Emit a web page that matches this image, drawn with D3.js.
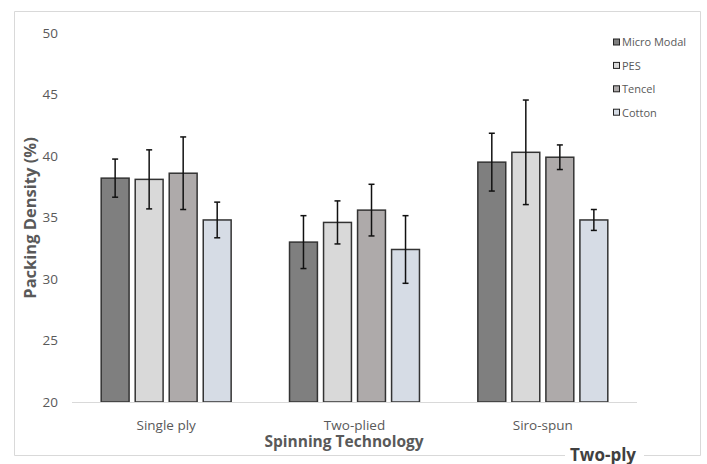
<!DOCTYPE html>
<html>
<head>
<meta charset="utf-8">
<script src="https://cdn.jsdelivr.net/npm/d3@7"></script>
<style>
  body { margin: 0; background: #fff; }
  svg { display: block; font-family: "Open Sans", "Liberation Sans", sans-serif; }
</style>
</head>
<body>
<div id="chart"></div>
<script>
// Chart data
const categories = ["Single ply", "Two-plied", "Siro-spun"];
const fibres = ["Micro Modal", "PES", "Tencel", "Cotton"];
const colors = ["#7f7f7f", "#d9d9d9", "#aeaaaa", "#d6dce5"];

// mean packing density per fibre, one value per category
const microModal = [38.2, 33.0, 39.5];
const pes = [38.1, 34.6, 40.3];
const tencel = [38.6, 35.6, 39.9];
const cotton = [34.8, 32.4, 34.8];

// error bar half-lengths
const microModalErr = [1.55, 2.15, 2.35];
const pesErr = [2.4, 1.75, 4.25];
const tencelErr = [2.95, 2.1, 1.0];
const cottonErr = [1.45, 2.75, 0.85];

const yTicks = [20, 25, 30, 35, 40, 45, 50];

const means = [microModal, pes, tencel, cotton];
const errs = [microModalErr, pesErr, tencelErr, cottonErr];

const rows = [];
categories.forEach((c, i) => {
    fibres.forEach((f, j) => {
        rows.push({ cat: c, fibre: f, value: means[j][i], err: errs[j][i], color: colors[j] });
    });
});

function render() {
    const width = 707, height = 464;
    const margin = { left: 72, right: 70, top: 33, bottom: 62 };

    const svg = d3.select("#chart")
        .append("svg")
        .attr("width", width)
        .attr("height", height);

    // chart area border, with a gap for the "Two-ply" label
    svg.append("path")
        .attr("d", "M565,455.5 H14.5 V11.5 H700.5 V455.5 H644")
        .attr("stroke", "#d9d9d9")
        .attr("stroke-width", 1)
        .attr("fill", "none");

    const x0 = d3.scaleBand()
        .domain(categories)
        .range([margin.left, width - margin.right])
        .paddingInner(0.31)
        .paddingOuter(0.155);

    const x1 = d3.scaleBand()
        .domain(fibres)
        .range([0, x0.bandwidth()])
        .paddingInner(0.18);

    const y = d3.scaleLinear()
        .domain([20, 50])
        .range([height - margin.bottom, margin.top]);

    // y tick labels
    svg.append("g")
        .selectAll("text")
        .data(yTicks)
        .join("text")
        .attr("x", 58)
        .attr("y", d => y(d))
        .attr("dy", "0.35em")
        .attr("text-anchor", "end")
        .attr("font-size", 13.5)
        .attr("fill", "#595959")
        .text(d => d);

    // bars
    const bars = svg.append("g")
        .selectAll("g")
        .data(rows)
        .join("g")
        .attr("transform", d => `translate(${x0(d.cat) + x1(d.fibre)},0)`);

    bars.append("rect")
        .attr("x", 0)
        .attr("y", d => y(d.value))
        .attr("width", x1.bandwidth())
        .attr("height", d => y(20) - y(d.value))
        .attr("fill", d => d.color)
        .attr("stroke", "#333")
        .attr("stroke-width", 1.5);

    // error bars
    const cx = x1.bandwidth() / 2;
    bars.append("line")
        .attr("x1", cx).attr("x2", cx)
        .attr("y1", d => y(d.value + d.err))
        .attr("y2", d => y(d.value - d.err))
        .attr("stroke", "#111")
        .attr("stroke-width", 1.5);
    bars.append("line")
        .attr("x1", cx - 3).attr("x2", cx + 3)
        .attr("y1", d => y(d.value + d.err))
        .attr("y2", d => y(d.value + d.err))
        .attr("stroke", "#111")
        .attr("stroke-width", 1.5);
    bars.append("line")
        .attr("x1", cx - 3).attr("x2", cx + 3)
        .attr("y1", d => y(d.value - d.err))
        .attr("y2", d => y(d.value - d.err))
        .attr("stroke", "#111")
        .attr("stroke-width", 1.5);

    // x axis line
    svg.append("line")
        .attr("x1", margin.left)
        .attr("x2", width - margin.right)
        .attr("y1", y(20) + 0.5)
        .attr("y2", y(20) + 0.5)
        .attr("stroke", "#d9d9d9")
        .attr("stroke-width", 1);

    // category labels
    svg.append("g")
        .selectAll("text")
        .data(categories)
        .join("text")
        .attr("x", d => x0(d) + x0.bandwidth() / 2)
        .attr("y", 430)
        .attr("text-anchor", "middle")
        .attr("font-size", 13.5)
        .attr("fill", "#595959")
        .text(d => d);

    // axis titles
    svg.append("text")
        .attr("x", 344)
        .attr("y", 447)
        .attr("text-anchor", "middle")
        .attr("font-size", 15.5)
        .attr("font-weight", "bold")
        .attr("fill", "#595959")
        .text("Spinning Technology");

    svg.append("text")
        .attr("transform", "translate(36,218) rotate(-90)")
        .attr("text-anchor", "middle")
        .attr("font-size", 16.5)
        .attr("font-weight", "bold")
        .attr("fill", "#595959")
        .text("Packing Density (%)");

    svg.append("text")
        .attr("x", 603)
        .attr("y", 461)
        .attr("text-anchor", "middle")
        .attr("font-size", 17)
        .attr("font-weight", "bold")
        .attr("fill", "#404040")
        .text("Two-ply");

    // legend
    const legend = svg.append("g")
        .selectAll("g")
        .data(fibres)
        .join("g")
        .attr("transform", (d, i) => `translate(613,${42.5 + i * 23.4})`);

    legend.append("rect")
        .attr("x", 0.5)
        .attr("y", -3.5)
        .attr("width", 6)
        .attr("height", 6)
        .attr("fill", (d, i) => colors[i])
        .attr("stroke", "#222")
        .attr("stroke-width", 1);

    legend.append("text")
        .attr("x", 9)
        .attr("y", 0)
        .attr("dy", "0.35em")
        .attr("font-size", 11)
        .attr("fill", "#595959")
        .text(d => d);
}

document.addEventListener("DOMContentLoaded", render);
</script>
</body>
</html>
